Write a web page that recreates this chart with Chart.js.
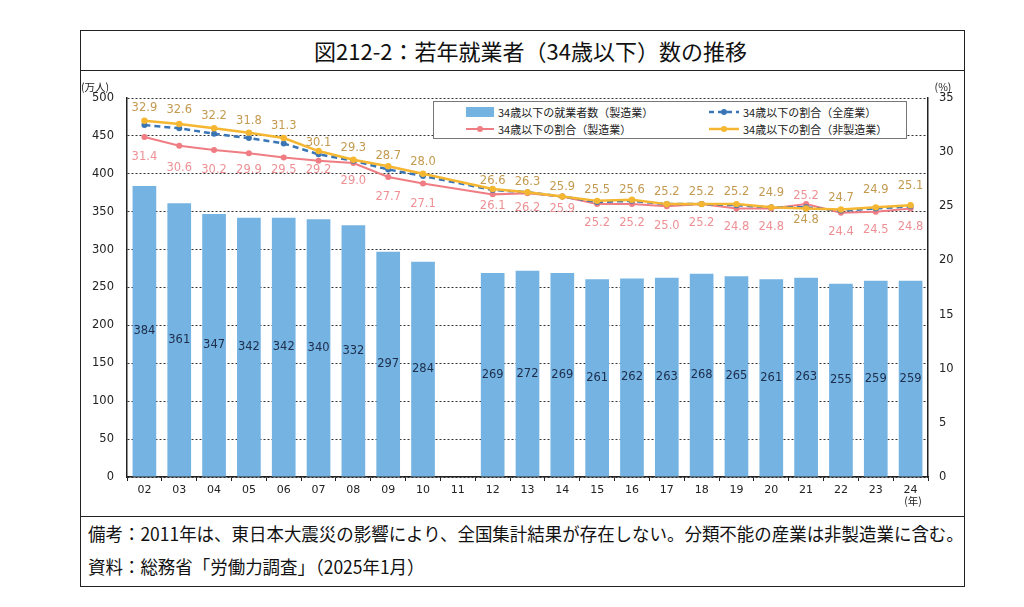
<!DOCTYPE html>
<html lang="ja">
<head>
<meta charset="UTF-8">
<title>若年就業者（34歳以下）数の推移</title>
<script src="https://cdn.jsdelivr.net/npm/chart.js@4.4.1/dist/chart.umd.min.js"></script>
<style>
  body { margin: 0; background: #fff; width: 1024px; height: 607px; position: relative; overflow: hidden;
         font-family: "Noto Sans CJK JP", sans-serif; }
  #frame { position: absolute; left: 80px; top: 30px; width: 885px; height: 557px;
           border: 1.5px solid #222; box-sizing: border-box; }
  #title { position: absolute; left: 0; top: 0; width: 100%; height: 40px; border-bottom: 1.5px solid #222;
           box-sizing: border-box; text-align: center; line-height: 38px; font-size: 22px; color: #111;
           padding-left: 16px; }
  #notes { position: absolute; left: 0; top: 485px; width: 100%; height: 70px; border-top: 1.5px solid #222;
           box-sizing: border-box; font-size: 18px; color: #111; padding-left: 7px; }
  #notes div { height: 33px; line-height: 33px; white-space: nowrap; }
  #notes span { display: inline-block; transform: scaleX(0.97); transform-origin: left center; }
  #chartBox { position: absolute; left: 82px; top: 73px; width: 880px; height: 442px; }
  #legend { position: absolute; left: 433px; top: 101px; width: 474px; height: 38px; background: #fff;
            border: 1px solid #777; box-sizing: border-box; font-size: 11px; color: #222; }
  .item { position: absolute; display: flex; align-items: center; height: 16px; }
  .item svg { margin-right: 3px; }
</style>
</head>
<body>
<div id="frame">
  <div id="title">図212-2：若年就業者（34歳以下）数の推移</div>
  <div id="notes">
    <div><span>備考：2011年は、東日本大震災の影響により、全国集計結果が存在しない。分類不能の産業は非製造業に含む。</span></div>
    <div><span>資料：総務省「労働力調査」（2025年1月）</span></div>
  </div>
</div>
<div id="chartBox"><canvas id="chart"></canvas></div>
<div id="legend">
  <div class="item" style="left:31px;top:2px">
    <svg width="30" height="12"><rect x="1" y="1" width="28" height="10" fill="#74b3e2"/></svg>34歳以下の就業者数（製造業）</div>
  <div class="item" style="left:274px;top:2px">
    <svg width="32" height="12"><line x1="1" y1="6" x2="31" y2="6" stroke="#3a76b6" stroke-width="2.5" stroke-dasharray="5,4"/><circle cx="16" cy="6" r="3" fill="#3a76b6"/></svg>34歳以下の割合（全産業）</div>
  <div class="item" style="left:31px;top:19px">
    <svg width="30" height="12"><line x1="1" y1="6" x2="29" y2="6" stroke="#ef7d83" stroke-width="2"/><circle cx="15" cy="6" r="3" fill="#ef7d83"/></svg>34歳以下の割合（製造業）</div>
  <div class="item" style="left:274px;top:19px">
    <svg width="32" height="12"><line x1="1" y1="6" x2="31" y2="6" stroke="#f5b731" stroke-width="2.5"/><circle cx="16" cy="6" r="3" fill="#f5b731"/></svg>34歳以下の割合（非製造業）</div>
</div>

<script>
// 年（02〜24）、2011年はデータなし
const years = ['02','03','04','05','06','07','08','09','10','11','12','13','14','15','16','17','18','19','20','21','22','23','24'];

// 34歳以下の就業者数（製造業、万人）
const workers = [384,361,347,342,342,340,332,297,284,null,269,272,269,261,262,263,268,265,261,263,255,259,259];

// 34歳以下の割合（%）
const shareAll    = [32.5,32.2,31.7,31.3,30.8,29.8,29.2,28.4,27.8,null,26.5,26.3,25.9,25.4,25.5,25.2,25.2,25.1,24.9,24.9,24.6,24.8,25.0];
const shareMfg    = [31.4,30.6,30.2,29.9,29.5,29.2,29.0,27.7,27.1,null,26.1,26.2,25.9,25.2,25.2,25.0,25.2,24.8,24.8,25.2,24.4,24.5,24.8];
const shareNonMfg = [32.9,32.6,32.2,31.8,31.3,30.1,29.3,28.7,28.0,null,26.6,26.3,25.9,25.5,25.6,25.2,25.2,25.2,24.9,24.8,24.7,24.9,25.1];

// ラベルの縦位置（点からのずれ, px）
const nonMfgLabelDy = [-13,-14,-12,-12,-12,-8,-12,-10,-12,0,-8,-10,-10,-11,-10,-12,-12,-12,-14,12,-12,-17,-19];
const mfgLabelDy    = [20,22,20,17,12,9,18,20,20,0,12,15,12,19,19,20,19,19,19,-8,19,18,19];

const BLUE_BAR = '#74b3e2';
const RED = '#ef7d83';
const YELLOW = '#f5b731';
const BLUE_LINE = '#3a76b6';

const valueLabels = {
  id: 'valueLabels',
  afterDatasetsDraw(chart) {
    const ctx = chart.ctx;
    ctx.save();
    ctx.font = '11.5px "DejaVu Sans"';
    ctx.textAlign = 'center';
    ctx.textBaseline = 'middle';
    chart.getDatasetMeta(0).data.forEach((bar, i) => {
      if (workers[i] == null) return;
      ctx.fillStyle = '#1d2d4a';
      ctx.fillText(workers[i], bar.x, (bar.y + bar.base) / 2);
    });
    chart.getDatasetMeta(1).data.forEach((p, i) => {
      if (shareMfg[i] == null) return;
      ctx.fillStyle = '#ee9094';
      ctx.fillText(shareMfg[i].toFixed(1), p.x, p.y + mfgLabelDy[i]);
    });
    chart.getDatasetMeta(3).data.forEach((p, i) => {
      if (shareNonMfg[i] == null) return;
      ctx.fillStyle = '#c39a4f';
      ctx.fillText(shareNonMfg[i].toFixed(1), p.x, p.y + nonMfgLabelDy[i]);
    });
    // unit labels
    const a = chart.chartArea;
    ctx.fillStyle = '#222';
    ctx.font = '10.5px "Noto Sans CJK JP"';
    ctx.fillText('(万人)', a.left - 32, a.top - 11);
    ctx.fillText('(%)', a.right + 15, a.top - 11);
    ctx.fillText('(年)', a.right - 15, a.bottom + 24);
    ctx.restore();
  }
};

new Chart(document.getElementById('chart'), {
  type: 'bar',
  data: {
    labels: years,
    datasets: [
      { type: 'bar', label: '34歳以下の就業者数（製造業）', data: workers, yAxisID: 'y',
        backgroundColor: BLUE_BAR, barPercentage: 0.68, categoryPercentage: 1, order: 4 },
      { type: 'line', label: '34歳以下の割合（製造業）', data: shareMfg, yAxisID: 'y1',
        borderColor: RED, backgroundColor: RED, borderWidth: 2, pointRadius: 3, pointBorderWidth: 0,
        spanGaps: true, order: 3 },
      { type: 'line', label: '34歳以下の割合（全産業）', data: shareAll, yAxisID: 'y1',
        borderColor: BLUE_LINE, backgroundColor: BLUE_LINE, borderWidth: 2.5, borderDash: [6, 4],
        pointRadius: 3, pointBorderWidth: 0, spanGaps: true, order: 2 },
      { type: 'line', label: '34歳以下の割合（非製造業）', data: shareNonMfg, yAxisID: 'y1',
        borderColor: YELLOW, backgroundColor: YELLOW, borderWidth: 2.5, pointRadius: 3.2, pointBorderWidth: 0,
        spanGaps: true, order: 1 }
    ]
  },
  options: {
    responsive: true,
    maintainAspectRatio: false,
    animation: false,
    layout: { padding: { top: 25, left: 0, right: 0, bottom: 0 } },
    plugins: { legend: { display: false }, tooltip: { enabled: false } },
    scales: {
      x: {
        grid: { drawOnChartArea: false, offset: true, tickLength: 4, color: '#222' },
        border: { display: true, color: '#222', width: 1.5 },
        ticks: { color: '#222', font: { family: 'DejaVu Sans', size: 11 }, padding: 3, maxRotation: 0 },
        afterFit: s => { s.height = 38; }
      },
      y: {
        position: 'left', min: 0, max: 500,
        ticks: { stepSize: 50, color: '#222', font: { family: 'DejaVu Sans', size: 11.5 }, padding: 13 },
        grid: { color: '#333', drawTicks: false, lineWidth: 1 },
        border: { display: true, color: '#222', width: 1.5, dash: [2, 2] },
        afterFit: s => { s.width = 45; }
      },
      y1: {
        position: 'right', min: 0, max: 35,
        ticks: { stepSize: 5, color: '#222', font: { family: 'DejaVu Sans', size: 11.5 }, padding: 11 },
        grid: { drawOnChartArea: false, drawTicks: false },
        border: { display: true, color: '#222', width: 1.5 },
        afterFit: s => { s.width = 34; }
      }
    }
  },
  plugins: [valueLabels]
});
</script>
</body>
</html>
